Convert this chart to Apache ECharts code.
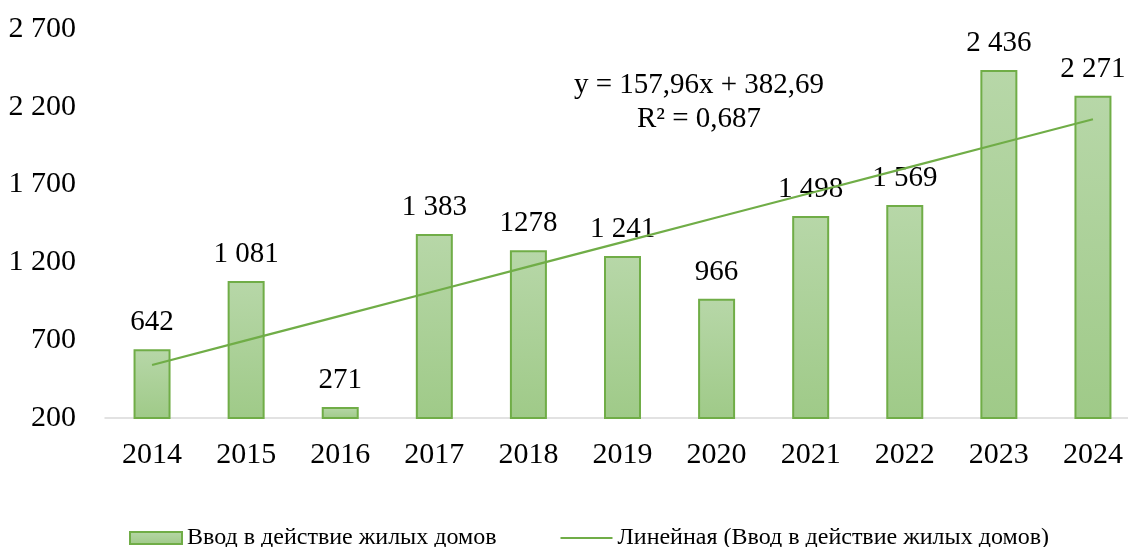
<!DOCTYPE html>
<html>
<head>
<meta charset="utf-8">
<script src="https://cdn.jsdelivr.net/npm/echarts@6/dist/echarts.min.js"></script>
<style>
  html, body { margin: 0; padding: 0; background: #fff; }
  #chart { width: 1128px; height: 547px; }
</style>
</head>
<body>
<div id="chart"></div>
<script>
const years = ['2014', '2015', '2016', '2017', '2018', '2019', '2020', '2021', '2022', '2023', '2024']
const values = [642, 1081, 271, 1383, 1278, 1241, 966, 1498, 1569, 2436, 2271]
const valueLabels = ['642', '1 081', '271', '1 383', '1278', '1 241', '966', '1 498', '1 569', '2 436', '2 271']
// linear trend (y = 157,96x + 382,69)
const trend = [540.65, 698.61, 856.57, 1014.53, 1172.49, 1330.45, 1488.41, 1646.37, 1804.33, 1962.29, 2120.25]
const equationText = ['y = 157,96x + 382,69', 'R² = 0,687']

const font = '"Liberation Serif", "Times New Roman", serif'
const barName = 'Ввод в действие жилых домов'
const lineName = 'Линейная (Ввод в действие жилых домов)'

const fmt = (v) => {
  const s = String(Math.round(v))
  return s.replace(/\B(?=(\d{3})+(?!\d))/g, ' ')
}

const chart = echarts.init(document.getElementById('chart'))
chart.setOption({
  animation: false,
  textStyle: { fontFamily: font },
  grid: {
    left: 105,
    top: 29,
    width: 1035,
    height: 389,
    outerBoundsMode: 'none',
    containLabel: false
  },
  legend: {
    bottom: -8,
    left: 124,
    itemGap: 64,
    itemWidth: 52,
    itemHeight: 12,
    textStyle: { fontFamily: font, fontSize: 24, color: '#000' },
    data: [
      { name: barName, icon: 'rect' },
      { name: lineName, icon: 'path://M0,5.1 L52,5.1 L52,6.9 L0,6.9 Z' }
    ]
  },
  xAxis: {
    type: 'category',
    data: years,
    axisTick: { show: false },
    axisLine: { lineStyle: { color: '#d9d9d9', width: 1.5 } },
    axisLabel: { color: '#000', fontSize: 30, fontFamily: font, margin: 22 }
  },
  yAxis: {
    type: 'value',
    min: 200,
    max: 2700,
    interval: 500,
    axisLine: { show: false },
    axisTick: { show: false },
    splitLine: { show: false },
    axisLabel: {
      color: '#000',
      fontSize: 30,
      fontFamily: font,
      margin: 29,
      formatter: fmt
    }
  },
  series: [
    {
      name: barName,
      type: 'bar',
      data: values,
      barWidth: 37,
      itemStyle: {
        color: new echarts.graphic.LinearGradient(0, 0, 0, 1, [
          { offset: 0, color: '#b7d7a8' },
          { offset: 1, color: '#9fca88' }
        ]),
        borderColor: '#70ad47',
        borderWidth: 2
      },
      label: {
        show: true,
        position: 'top',
        distance: 12,
        color: '#000',
        fontSize: 29,
        fontFamily: font,
        formatter: (p) => valueLabels[p.dataIndex]
      }
    },
    {
      name: lineName,
      type: 'line',
      data: trend,
      showSymbol: false,
      symbol: 'none',
      z: 5,
      itemStyle: { color: '#70ad47' },
      lineStyle: { color: '#70ad47', width: 2.2 }
    }
  ],
  graphic: [
    {
      type: 'text',
      x: 699,
      y: 85,
      style: { text: equationText[0], font: '29px ' + font, fill: '#000', align: 'center', verticalAlign: 'middle' }
    },
    {
      type: 'text',
      x: 699,
      y: 119,
      style: { text: equationText[1], font: '29px ' + font, fill: '#000', align: 'center', verticalAlign: 'middle' }
    }
  ]
})
</script>
</body>
</html>
